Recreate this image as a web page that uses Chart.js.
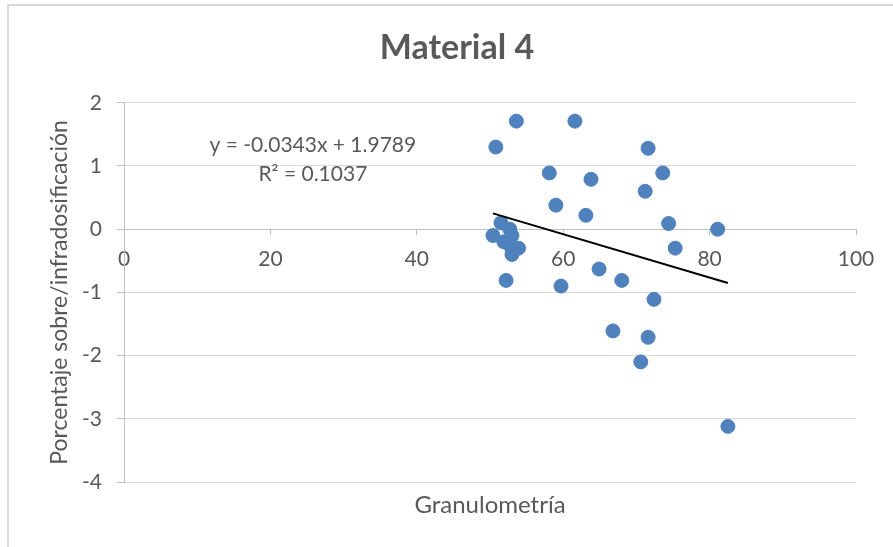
<!DOCTYPE html>
<html>
<head>
<meta charset="utf-8">
<script src="https://cdn.jsdelivr.net/npm/chart.js@4"></script>
<style>
  html, body { margin: 0; padding: 0; background: #fff; }
  #wrap { position: relative; width: 893px; height: 547px; }
  #frame { position: absolute; left: 7px; top: 4px; width: 900px; height: 560px;
           border-left: 2px solid #d9d9d9; border-top: 2px solid #d9d9d9; pointer-events: none; }
</style>
</head>
<body>
<div id="wrap">
  <canvas id="myChart" width="893" height="547"></canvas>
  <div id="frame"></div>
</div>
<script>
// datos (granulometría vs porcentaje)
const granulometria = [50.8, 53.6, 61.6, 71.6, 58.1, 63.8, 73.6, 71.2, 59.0, 63.1,
    74.4, 81.1, 75.3, 64.9, 68.0, 59.7, 52.2, 72.4, 66.8, 71.6, 70.6, 82.5,
    51.5, 50.4, 52.7, 53.0, 51.9, 52.7, 53.9, 53.0];
const porcentaje = [1.30, 1.71, 1.71, 1.28, 0.89, 0.79, 0.89, 0.60, 0.38, 0.22,
    0.09, 0.00, -0.30, -0.63, -0.81, -0.90, -0.81, -1.11, -1.61, -1.71, -2.10, -3.12,
    0.10, -0.10, 0.00, -0.10, -0.20, -0.25, -0.30, -0.40];

// línea de tendencia (Excel)
const pendiente = -0.0343;
const intercepto = 1.9789;
const textoEcuacion = ['y = -0.0343x + 1.9789', 'R² = 0.1037'];

const xTicks = [0, 20, 40, 60, 80, 100];
const yTicks = [-4, -3, -2, -1, 0, 1, 2];

const gris = '#595959';
const fuente = 'Lato, "Open Sans", sans-serif';

const puntos = granulometria.map((x, i) => ({ x: x, y: porcentaje[i] }));
const xMin = Math.min(...granulometria);
const xMax = Math.max(...granulometria);
const tendencia = [
    { x: xMin, y: pendiente * xMin + intercepto },
    { x: xMax, y: pendiente * xMax + intercepto }
];

// texto de la ecuación, colocado en coordenadas de datos
const ecuacionPlugin = {
    id: 'ecuacion',
    afterDatasetsDraw(chart) {
        const ctx = chart.ctx;
        const xs = chart.scales.x;
        const ys = chart.scales.y;
        const cx = xs.getPixelForValue(25.8);
        const cy = ys.getPixelForValue(1.33);
        ctx.save();
        ctx.font = '21px ' + fuente;
        ctx.fillStyle = gris;
        ctx.textAlign = 'center';
        ctx.textBaseline = 'middle';
        ctx.fillText(textoEcuacion[0], cx, cy);
        ctx.fillText(textoEcuacion[1], cx, cy + 29);
        ctx.restore();
    }
};

const ctx = document.getElementById('myChart').getContext('2d');
const myChart = new Chart(ctx, {
    type: 'scatter',
    data: {
        datasets: [{
            label: 'Datos',
            data: puntos,
            backgroundColor: '#4F81BD',
            borderColor: '#4F81BD',
            borderWidth: 1,
            pointRadius: 7,
            order: 2
        }, {
            type: 'line',
            label: 'Tendencia',
            data: tendencia,
            borderColor: '#000000',
            borderWidth: 2,
            pointRadius: 0,
            fill: false,
            order: 1
        }]
    },
    plugins: [ecuacionPlugin],
    options: {
        responsive: false,
        animation: false,
        layout: { padding: { left: 58, right: 37, top: 0, bottom: 0 } },
        scales: {
            x: {
                type: 'linear',
                position: { y: 0 },
                min: 0,
                max: 100,
                afterBuildTicks: s => { s.ticks = xTicks.map(v => ({ value: v })); },
                grid: { drawOnChartArea: false, tickLength: 5, color: '#bfbfbf' },
                border: { color: '#bfbfbf', width: 1 },
                ticks: { color: gris, font: { family: fuente, size: 21 }, padding: 12, maxRotation: 0 }
            },
            xTitulo: {
                type: 'linear',
                position: 'bottom',
                min: 0,
                max: 100,
                grid: { display: false },
                border: { display: false },
                ticks: { display: false },
                title: {
                    display: true,
                    text: 'Granulometría',
                    color: gris,
                    font: { family: fuente, size: 24 },
                    padding: { top: 0, bottom: 27 }
                },
                afterFit: s => { s.height = 65; }
            },
            y: {
                min: -4,
                max: 2,
                afterBuildTicks: s => { s.ticks = yTicks.map(v => ({ value: v })); },
                grid: { color: '#d9d9d9', lineWidth: 1, tickLength: 7, tickColor: '#bfbfbf' },
                border: { color: '#bfbfbf', width: 1 },
                ticks: { color: gris, font: { family: fuente, size: 21 }, padding: 15 },
                title: {
                    display: true,
                    text: 'Porcentaje sobre/infradosificación',
                    color: gris,
                    font: { family: fuente, size: 23 },
                    padding: { top: -12, bottom: 0 }
                },
                afterFit: s => { s.width = 66; }
            }
        },
        plugins: {
            legend: { display: false },
            tooltip: { enabled: false },
            title: {
                display: true,
                text: 'Material 4',
                color: gris,
                font: { family: fuente, size: 34, weight: 'bold' },
                padding: { top: 28, bottom: 34 }
            }
        }
    }
});
</script>
</body>
</html>
